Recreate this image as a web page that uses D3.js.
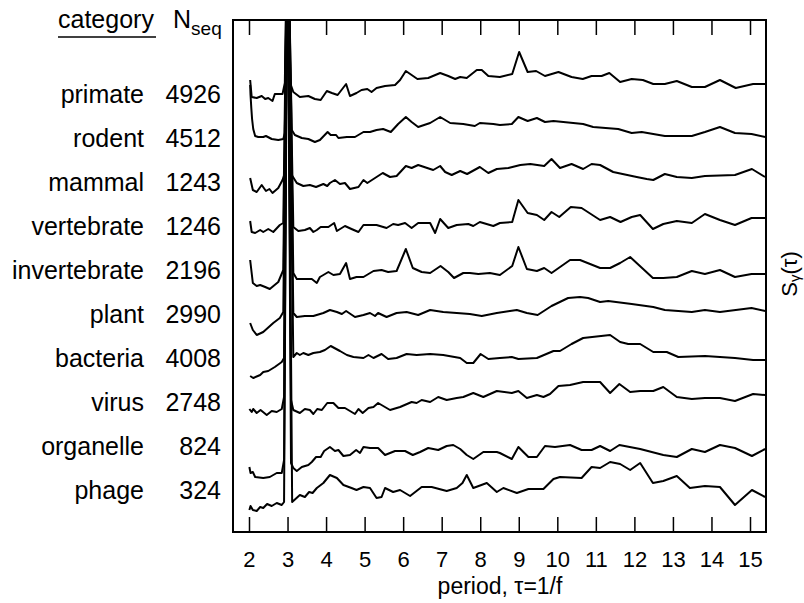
<!DOCTYPE html>
<html>
<head>
<meta charset="utf-8">
<script src="https://cdn.jsdelivr.net/npm/d3@7"></script>
<style>
  body { margin: 0; background: #fff; }
  svg text { font-family: "Liberation Sans", Arial, Helvetica, sans-serif; fill: #000; }
</style>
</head>
<body>
<svg width="804" height="603"></svg>
<script>
// categories and sequence counts, top row first
const categories = ["primate", "rodent", "mammal", "vertebrate", "invertebrate",
  "plant", "bacteria", "virus", "organelle", "phage"];
const counts = [4926, 4512, 1243, 1246, 2196, 2990, 4008, 2748, 824, 324];
const periodTicks = [2, 3, 4, 5, 6, 7, 8, 9, 10, 11, 12, 13, 14, 15];

// spectra: [period, S] (S relative to the row, arbitrary units)
// the period-3 peak runs far off the top of the frame
const primate = [[2.03,2.3],[2.07,0.6],[2.20,0.5],[2.33,0.7],[2.42,0.4],[2.50,0.5],[2.61,0.2],[2.67,0.9],[2.87,0.9],[2.93,2.0],
  [3.00,20],[3.06,2.1],[3.15,1.1],[3.32,0.6],[3.54,0.7],[3.71,0.4],[3.86,0.3],[4.02,1.2],[4.15,1.0],[4.30,0.8],[4.52,1.9],
  [4.62,0.7],[4.79,1.0],[4.92,1.3],[5.07,1.4],[5.18,1.1],[5.31,1.5],[5.53,1.7],[5.79,1.8],[5.92,2.3],[6.07,3.2],[6.22,2.8],
  [6.37,2.4],[6.65,2.5],[6.96,3.0],[7.17,2.7],[7.35,2.4],[7.48,2.6],[7.65,2.5],[7.91,3.3],[8.04,3.3],[8.21,2.7],[8.51,2.6],
  [8.83,2.9],[9.01,5.1],[9.23,3.1],[9.45,3.2],[9.68,2.7],[10.03,3.1],[10.37,2.6],[10.66,2.4],[10.89,2.7],[11.15,2.7],
  [11.35,3.0],[11.63,2.1],[11.93,2.4],[12.22,2.3],[12.49,1.9],[12.79,1.9],[13.10,2.2],[13.49,1.6],[13.83,1.6],[14.22,2.3],
  [14.63,1.5],[15.08,1.9],[15.39,1.9]];
const rodent = [[2.03,6.2],[2.04,5.2],[2.06,3.9],[2.08,2.8],[2.11,1.8],[2.16,1.1],[2.24,1.0],[2.37,1.0],[2.44,1.1],[2.59,0.8],
  [2.76,0.7],[2.89,0.8],[2.93,1.4],[3.00,24],[3.11,1.7],[3.19,1.2],[3.37,0.9],[3.54,0.8],[3.71,0.5],[3.84,0.7],[4.04,1.5],
  [4.12,1.2],[4.26,1.2],[4.32,0.9],[4.54,1.0],[4.75,1.0],[4.97,1.5],[5.14,1.5],[5.31,1.7],[5.48,1.8],[5.68,1.5],[5.87,2.3],
  [6.07,3.0],[6.22,2.5],[6.39,2.0],[6.70,2.4],[6.96,3.0],[7.22,2.4],[7.56,2.3],[7.86,2.1],[7.99,2.4],[8.34,2.3],[8.51,2.2],
  [8.82,2.3],[8.99,3.0],[9.23,2.6],[9.47,2.9],[9.68,2.5],[9.90,2.6],[10.67,2.3],[10.93,2.0],[11.58,1.8],[11.93,1.4],
  [12.19,1.5],[12.79,1.1],[13.49,1.1],[13.83,1.5],[14.22,2.0],[14.61,1.4],[15.04,1.3],[15.39,1.0]];
const mammal = [[2.03,1.3],[2.10,0.1],[2.20,-0.1],[2.33,0.6],[2.44,0.0],[2.53,0.2],[2.61,-0.2],[2.76,0.3],[2.87,1.1],[2.93,1.8],
  [3.00,29],[3.11,1.6],[3.24,0.8],[3.41,0.5],[3.58,0.6],[3.74,0.4],[3.93,0.7],[4.03,0.5],[4.10,0.8],[4.23,1.1],[4.36,0.7],
  [4.49,0.8],[4.62,0.2],[4.84,0.4],[4.97,1.1],[5.07,0.8],[5.31,1.4],[5.47,1.8],[5.66,1.4],[5.83,1.5],[6.07,2.5],[6.22,2.3],
  [6.39,2.6],[6.78,2.1],[6.96,2.5],[7.09,1.9],[7.26,1.6],[7.48,2.0],[7.66,1.7],[7.99,2.4],[8.21,1.8],[8.43,2.2],[8.73,2.3],
  [9.04,2.6],[9.30,2.7],[9.66,2.5],[9.85,3.2],[10.07,2.3],[10.37,2.7],[10.67,2.2],[10.89,2.7],[11.11,2.6],[11.45,1.9],
  [12.06,1.4],[12.32,1.2],[12.49,1.1],[12.79,1.7],[13.10,1.4],[13.49,1.3],[13.83,1.5],[14.61,1.6],[15.05,2.2],[15.39,1.4]];
const vertebrate = [[2.03,1.4],[2.07,0.3],[2.16,0.2],[2.29,0.5],[2.37,0.3],[2.50,0.6],[2.63,0.3],[2.80,1.0],[2.89,1.2],
  [3.00,33],[3.15,0.8],[3.28,0.4],[3.45,0.5],[3.58,0.7],[3.67,0.3],[3.76,0.5],[3.86,0.8],[4.06,0.8],[4.21,1.2],[4.28,0.4],
  [4.49,0.9],[4.66,0.6],[4.84,0.3],[4.97,1.0],[5.31,1.0],[5.57,0.7],[5.74,1.1],[5.87,1.0],[6.05,1.2],[6.22,0.7],[6.39,1.2],
  [6.70,1.2],[6.83,0.2],[6.96,1.6],[7.17,0.7],[7.39,1.0],[7.69,1.1],[7.82,0.9],[7.99,1.3],[8.34,0.9],[8.51,1.2],[8.83,1.3],
  [8.99,3.5],[9.23,2.2],[9.47,2.0],[9.66,1.5],[9.85,2.3],[10.05,1.8],[10.35,2.8],[10.63,2.7],[11.11,1.5],[11.37,1.8],
  [11.64,1.3],[11.93,1.8],[12.15,2.0],[12.48,0.6],[12.75,1.1],[13.10,1.4],[13.49,1.2],[13.83,2.1],[14.22,1.5],[14.61,1.0],
  [15.04,1.7],[15.39,1.7]];
const invertebrate = [[2.03,1.9],[2.10,-0.4],[2.20,-0.7],[2.29,-0.6],[2.42,-0.8],[2.54,-1.0],[2.76,-0.3],[2.89,0.9],
  [3.00,38],[3.15,0.6],[3.24,0.0],[3.41,0.0],[3.63,0.0],[3.76,-0.4],[3.84,0.2],[3.93,0.4],[4.06,0.7],[4.19,0.4],[4.36,0.5],
  [4.52,1.6],[4.62,0.0],[4.79,0.2],[4.97,0.2],[5.23,0.8],[5.44,0.9],[5.61,0.7],[5.83,0.8],[6.07,3.0],[6.25,1.1],[6.48,0.7],
  [6.70,0.6],[6.97,1.3],[7.17,0.7],[7.32,0.1],[7.56,0.6],[7.73,0.6],[7.95,0.5],[8.25,0.6],[8.51,0.4],[8.83,1.3],[8.99,3.2],
  [9.21,1.0],[9.47,0.8],[9.66,1.1],[9.85,0.6],[10.33,1.9],[10.59,1.9],[11.11,1.1],[11.37,1.1],[11.63,1.6],[11.89,2.2],
  [12.48,0.1],[12.75,0.1],[13.10,0.2],[13.49,0.8],[13.83,0.5],[14.22,0.9],[14.61,0.2],[15.04,0.5],[15.39,0.5]];
const plant = [[2.03,0.0],[2.10,-0.7],[2.20,-1.2],[2.37,-0.9],[2.63,0.0],[2.80,0.5],[2.89,1.1],
  [3.00,42],[3.15,1.0],[3.24,0.6],[3.45,0.7],[3.67,0.7],[3.93,1.0],[4.10,1.3],[4.28,1.1],[4.41,0.9],[4.52,1.2],[4.75,0.6],
  [4.97,0.8],[5.14,1.0],[5.27,0.7],[5.35,1.0],[5.57,0.6],[5.83,1.0],[6.09,1.1],[6.39,0.8],[6.70,1.3],[7.04,1.1],[7.39,1.0],
  [7.73,0.9],[8.04,0.7],[8.43,1.0],[8.77,1.2],[8.95,1.3],[9.21,1.0],[9.49,0.8],[9.85,1.7],[10.28,2.5],[10.59,2.6],
  [10.80,2.5],[11.11,2.1],[11.32,2.2],[11.93,1.9],[12.49,1.6],[12.79,1.3],[13.49,1.1],[13.83,1.3],[14.22,1.1],[15.04,1.5],
  [15.39,1.2]];
const bacteria = [[2.03,-0.9],[2.11,-1.1],[2.29,-0.8],[2.37,-0.5],[2.50,-0.4],[2.67,0.0],[2.85,0.5],[2.91,0.9],
  [3.00,46],[3.15,1.0],[3.24,1.4],[3.32,1.2],[3.41,1.4],[3.54,1.2],[3.67,1.4],[3.84,1.5],[3.97,1.7],[4.12,2.1],[4.36,1.6],
  [4.54,1.2],[4.71,1.0],[4.97,0.9],[5.10,1.2],[5.23,0.9],[5.44,1.3],[5.61,0.8],[5.83,0.9],[6.09,1.3],[6.35,1.2],[6.70,1.3],
  [7.04,1.2],[7.48,0.9],[7.65,0.4],[7.82,0.4],[8.01,1.3],[8.21,0.8],[8.51,0.9],[8.82,1.0],[8.99,0.8],[9.47,0.9],[9.90,1.6],
  [10.07,1.6],[10.37,2.3],[10.67,2.9],[11.37,3.2],[11.63,2.5],[11.84,2.3],[12.15,2.3],[12.49,1.5],[12.84,1.5],[13.14,1.0],
  [13.83,1.1],[14.61,0.9],[15.08,0.7],[15.39,0.7]];
const virus = [[2.01,0.2],[2.07,-0.1],[2.11,0.2],[2.20,-0.2],[2.30,0.1],[2.46,-0.4],[2.59,0.0],[2.72,-0.1],[2.85,0.2],[2.91,1.4],
  [3.00,51],[3.09,1.1],[3.15,0.1],[3.32,-0.2],[3.45,0.2],[3.58,0.1],[3.67,-0.3],[3.77,0.2],[3.89,0.1],[4.03,0.8],[4.19,0.8],
  [4.32,0.3],[4.49,0.3],[4.62,0.0],[4.75,-0.3],[4.84,0.2],[4.95,-0.2],[5.10,0.3],[5.23,0.4],[5.35,0.8],[5.66,0.1],[5.92,0.4],
  [6.22,0.9],[6.35,0.8],[6.48,1.1],[6.70,0.9],[6.91,1.4],[7.13,1.1],[7.39,1.3],[7.56,1.4],[7.82,1.8],[8.08,1.4],[8.43,2.0],
  [8.82,1.8],[8.99,2.0],[9.21,1.3],[9.47,1.6],[9.64,1.4],[9.81,1.7],[10.03,2.5],[10.33,2.6],[10.67,2.9],[11.11,2.9],
  [11.37,1.8],[11.61,2.7],[11.89,1.9],[12.15,2.0],[12.49,2.0],[12.75,2.4],[13.10,1.4],[13.49,1.2],[13.83,1.3],[14.22,1.3],
  [14.61,1.0],[15.08,1.7],[15.39,1.6]];
const organelle = [[2.01,-1.2],[2.04,-1.8],[2.10,-1.7],[2.16,-2.2],[2.37,-2.3],[2.54,-2.2],[2.72,-1.8],[2.85,-1.8],[2.91,-0.5],
  [3.00,55],[3.09,-0.8],[3.15,-1.3],[3.24,-1.6],[3.37,-1.2],[3.54,-1.0],[3.63,-0.7],[3.74,-0.2],[3.86,-0.2],[3.95,0.4],
  [4.10,0.8],[4.23,0.4],[4.32,0.5],[4.45,-0.1],[4.62,0.0],[4.78,0.5],[4.88,0.2],[4.97,0.8],[5.14,0.7],[5.35,0.7],[5.53,0.0],
  [5.79,0.4],[6.05,0.4],[6.25,0.0],[6.44,0.3],[6.65,0.7],[6.91,0.5],[7.13,0.9],[7.30,1.0],[7.48,0.6],[7.65,0.0],[7.82,-0.4],
  [8.08,0.3],[8.43,0.3],[8.51,0.2],[8.82,-0.4],[8.99,0.8],[9.25,-0.2],[9.47,-0.2],[9.68,0.9],[9.94,0.8],[10.33,1.0],
  [10.63,0.5],[10.89,0.5],[11.11,0.9],[11.37,0.4],[11.61,1.0],[12.15,0.6],[12.75,0.0],[13.10,-0.2],[13.49,0.6],[13.83,0.3],
  [14.22,1.0],[14.61,0.7],[15.05,-0.1],[15.39,0.6]];
const phage = [[2.01,-1.1],[2.04,-0.7],[2.10,-1.1],[2.20,-1.2],[2.29,-0.8],[2.37,-0.9],[2.47,-0.5],[2.59,-0.7],[2.72,-0.4],
  [2.85,-0.6],[2.91,-0.3],[3.00,60],[3.12,-0.3],[3.32,0.4],[3.45,0.2],[3.56,0.7],[3.65,0.6],[3.76,1.1],[3.93,1.6],[4.10,2.4],
  [4.28,2.1],[4.45,1.4],[4.66,1.1],[4.79,0.9],[4.97,1.2],[5.14,1.1],[5.31,0.1],[5.44,0.2],[5.53,1.1],[5.74,0.7],[5.92,0.9],
  [6.18,0.3],[6.48,1.2],[6.74,1.2],[7.13,0.8],[7.39,1.1],[7.54,1.6],[7.65,2.4],[7.82,1.1],[8.17,1.6],[8.43,0.7],[8.60,1.1],
  [8.95,0.6],[9.25,1.0],[9.64,1.0],[9.90,2.0],[10.07,2.2],[10.63,2.1],[10.89,3.2],[11.11,3.1],[11.37,3.7],[11.63,3.5],
  [11.89,2.9],[12.15,3.6],[12.48,1.6],[12.75,1.8],[13.10,2.3],[13.44,1.1],[13.83,1.3],[14.22,1.2],[14.61,-0.6],[15.05,0.9],
  [15.39,0.2]];

const spectra = [primate, rodent, mammal, vertebrate, invertebrate, plant, bacteria, virus, organelle, phage];

const svg = d3.select("svg");
const fontFamily = '"Liberation Sans", Arial, Helvetica, sans-serif';

const x = d3.scaleLinear().domain([1.585, 15.415]).range([233, 766]);
const y = d3.scaleLinear().domain([0, 51.2]).range([532, 20]);
const rowStep = 4.4;     // vertical offset between stacked spectra
const topRow = 42.9;     // baseline of the first row

svg.append("clipPath").attr("id", "plotclip")
  .append("rect")
  .attr("x", x.range()[0]).attr("y", y.range()[1])
  .attr("width", x.range()[1] - x.range()[0])
  .attr("height", y.range()[0] - y.range()[1]);

// stacked spectra
const line = d3.line().x((d) => x(d[0])).y((d) => y(d[1]));
svg.append("g")
  .attr("clip-path", "url(#plotclip)")
  .selectAll("path")
  .data(spectra)
  .enter()
  .append("path")
  .attr("d", (s, i) => line(s.map((d) => [d[0], topRow - rowStep * i + d[1]])))
  .attr("fill", "none")
  .attr("stroke", "#000")
  .attr("stroke-width", 2)
  .attr("stroke-linejoin", "round");

// ticks inside the frame, top and bottom
svg.append("g")
  .attr("transform", `translate(0,${y.range()[1]})`)
  .call(d3.axisTop(x).tickValues(periodTicks).tickSizeInner(-15).tickSizeOuter(0).tickFormat(""))
  .call((g) => g.select(".domain").remove())
  .call((g) => g.selectAll("line").attr("stroke-width", 1.5));

svg.append("g")
  .attr("transform", `translate(0,${y.range()[0]})`)
  .call(d3.axisBottom(x).tickValues(periodTicks).tickSizeInner(-15).tickSizeOuter(0).tickPadding(19))
  .call((g) => g.select(".domain").remove())
  .call((g) => g.selectAll("line").attr("stroke-width", 1.5))
  .call((g) => g.selectAll("text").attr("font-size", 22).attr("font-family", fontFamily));

// frame
svg.append("rect")
  .attr("x", x.range()[0]).attr("y", y.range()[1])
  .attr("width", x.range()[1] - x.range()[0])
  .attr("height", y.range()[0] - y.range()[1])
  .attr("fill", "none")
  .attr("stroke", "#000")
  .attr("stroke-width", 2);

// row labels
const rows = svg.append("g").attr("font-size", 25);
rows.selectAll(".cat")
  .data(categories)
  .enter()
  .append("text")
  .attr("class", "cat")
  .attr("x", 144)
  .attr("y", (d, i) => y(topRow - rowStep * i))
  .attr("text-anchor", "end")
  .text((d) => d);
rows.selectAll(".num")
  .data(counts)
  .enter()
  .append("text")
  .attr("class", "num")
  .attr("x", 221)
  .attr("y", (d, i) => y(topRow - rowStep * i))
  .attr("text-anchor", "end")
  .text((d) => d);

// header
svg.append("text").attr("x", 58).attr("y", 28).attr("font-size", 25).text("category");
svg.append("line").attr("x1", 58).attr("x2", 156).attr("y1", 37).attr("y2", 37)
  .attr("stroke", "#000").attr("stroke-width", 1.5);
const nseq = svg.append("text").attr("x", 173).attr("y", 28).attr("font-size", 25);
nseq.append("tspan").text("N");
nseq.append("tspan").attr("font-size", 19).attr("dy", 7).text("seq");

// axis titles
svg.append("text")
  .attr("x", 500).attr("y", 594)
  .attr("text-anchor", "middle")
  .attr("font-size", 23)
  .text("period, τ=1/f");

const ylab = svg.append("text")
  .attr("transform", "translate(797,274) rotate(-90)")
  .attr("text-anchor", "middle")
  .attr("font-size", 22);
ylab.append("tspan").text("S");
ylab.append("tspan").attr("font-size", 15).attr("dy", 3).text("γ");
ylab.append("tspan").attr("dy", -3).text("(τ)");
</script>
</body>
</html>
